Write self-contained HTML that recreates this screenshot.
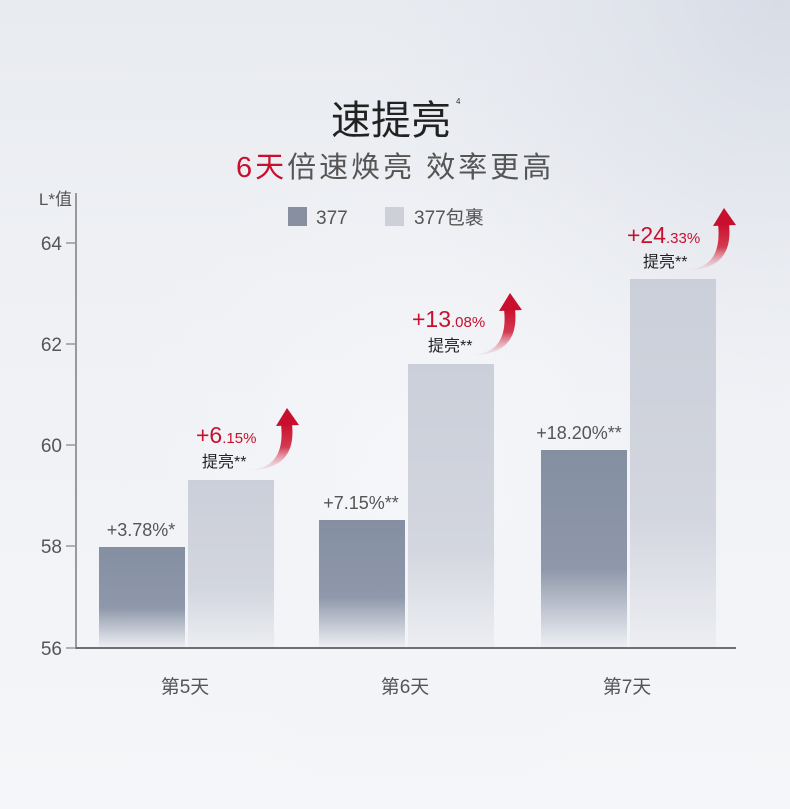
<!DOCTYPE html>
<html><head><meta charset="utf-8"><style>
body{margin:0;width:790px;height:809px;overflow:hidden;}
svg{display:block}
</style></head><body>
<svg width="790" height="809" viewBox="0 0 790 809" xmlns="http://www.w3.org/2000/svg" font-family="'Liberation Sans','Noto Sans CJK SC',sans-serif">
<defs>
<linearGradient id="bg" x1="0" y1="0" x2="0" y2="1">
<stop offset="0" stop-color="#e8ebf0"/><stop offset="0.3" stop-color="#eef0f4"/><stop offset="1" stop-color="#f5f6f9"/>
</linearGradient>
<radialGradient id="tr" cx="780" cy="0" r="420" gradientUnits="userSpaceOnUse">
<stop offset="0" stop-color="#d8dce6"/><stop offset="1" stop-color="#e4e7ee" stop-opacity="0"/>
</radialGradient>
<radialGradient id="glow" cx="420" cy="470" r="330" gradientUnits="userSpaceOnUse">
<stop offset="0" stop-color="#f6f7fa"/><stop offset="1" stop-color="#f0f2f6" stop-opacity="0"/>
</radialGradient>
<linearGradient id="d" x1="0" y1="0" x2="0" y2="1">
<stop offset="0" stop-color="#858fa2"/><stop offset="0.6" stop-color="#8e98aa"/><stop offset="1" stop-color="#eef0f4"/>
</linearGradient>
<linearGradient id="l" x1="0" y1="0" x2="0" y2="1">
<stop offset="0" stop-color="#cbcfd9"/><stop offset="0.65" stop-color="#d3d6df"/><stop offset="1" stop-color="#eceef2"/>
</linearGradient>
<linearGradient id="ar" x1="0" y1="0" x2="0" y2="1">
<stop offset="0" stop-color="#c8102e"/><stop offset="0.5" stop-color="#d43a50"/><stop offset="1" stop-color="#e8b0bb" stop-opacity="0.2"/>
</linearGradient>
<g id="arrow">
<path d="M-38,62 Q-1,60 -6,16 L5,16 Q10,62 -38,62 Z" fill="url(#ar)"/>
<path d="M0,0 L-11,18 L12,17 Z" fill="#c8102e"/>
</g>
</defs>
<rect width="790" height="809" fill="url(#bg)"/>
<rect width="790" height="809" fill="url(#tr)"/>
<rect width="790" height="809" fill="url(#glow)"/>

<text x="391" y="134" font-size="40" text-anchor="middle" fill="#222">速提亮</text>
<text x="456" y="104" font-size="8" fill="#333">4</text>
<text x="236" y="177" font-size="29" fill="#555" letter-spacing="3"><tspan fill="#c8102e">6天</tspan>倍速焕亮 效率更高</text>

<text x="72" y="205" font-size="17" text-anchor="end" fill="#555">L*值</text>
<line x1="76" y1="193" x2="76" y2="649" stroke="#999" stroke-width="2"/>
<g stroke="#999" stroke-width="1.5">
<line x1="66" y1="243" x2="76" y2="243"/><line x1="66" y1="344" x2="76" y2="344"/>
<line x1="66" y1="445" x2="76" y2="445"/><line x1="66" y1="546" x2="76" y2="546"/>
<line x1="66" y1="648" x2="76" y2="648"/>
</g>
<g font-size="19" fill="#555" text-anchor="end">
<text x="62" y="250">64</text><text x="62" y="351">62</text><text x="62" y="452">60</text>
<text x="62" y="553">58</text><text x="62" y="655">56</text>
</g>

<rect x="288" y="207" width="19" height="19" fill="#878fa1"/>
<text x="316" y="224" font-size="19" fill="#555">377</text>
<rect x="385" y="207" width="19" height="19" fill="#cdd0d9"/>
<text x="414" y="224" font-size="19" fill="#555">377包裹</text>

<rect x="99" y="547" width="86" height="101" fill="url(#d)"/>
<rect x="188" y="480" width="86" height="168" fill="url(#l)"/>
<rect x="319" y="520" width="86" height="128" fill="url(#d)"/>
<rect x="408" y="364" width="86" height="284" fill="url(#l)"/>
<rect x="541" y="450" width="86" height="198" fill="url(#d)"/>
<rect x="630" y="279" width="86" height="369" fill="url(#l)"/>

<line x1="76" y1="648" x2="736" y2="648" stroke="#444" stroke-width="1.5"/>

<g font-size="18" fill="#555" text-anchor="middle">
<text x="141" y="536">+3.78%*</text>
<text x="361" y="509">+7.15%**</text>
<text x="579" y="439">+18.20%**</text>
</g>
<g font-size="19" fill="#555" text-anchor="middle">
<text x="185" y="693">第5天</text><text x="405" y="693">第6天</text><text x="627" y="693">第7天</text>
</g>

<use href="#arrow" transform="translate(287,408)"/>
<use href="#arrow" transform="translate(510,293)"/>
<use href="#arrow" transform="translate(724,208)"/>

<text x="196" y="443" fill="#c8102e"><tspan font-size="23">+6</tspan><tspan font-size="15">.15%</tspan></text>
<text x="202" y="467" font-size="16" fill="#222">提亮**</text>
<text x="412" y="327" fill="#c8102e"><tspan font-size="23">+13</tspan><tspan font-size="15">.08%</tspan></text>
<text x="428" y="351" font-size="16" fill="#222">提亮**</text>
<text x="627" y="243" fill="#c8102e"><tspan font-size="23">+24</tspan><tspan font-size="15">.33%</tspan></text>
<text x="643" y="267" font-size="16" fill="#222">提亮**</text>
</svg>
</body></html>
